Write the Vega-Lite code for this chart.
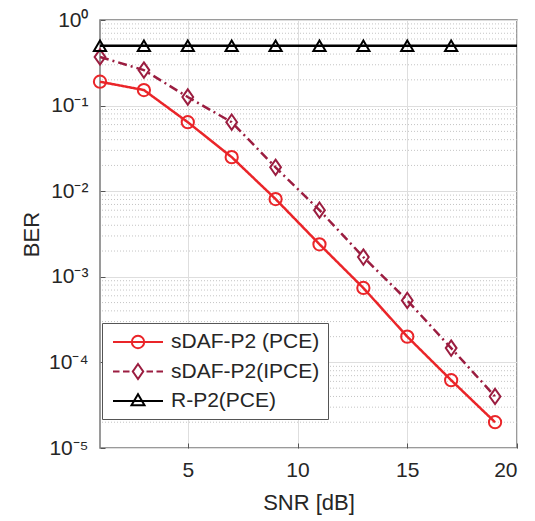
{
  "$schema": "https://vega.github.io/schema/vega-lite/v6.json",
  "width": 417,
  "height": 428,
  "autosize": "none",
  "padding": {"left": 100, "top": 20, "right": 18, "bottom": 73},
  "background": "white",
  "config": {
    "font": "Liberation Sans",
    "view": {"stroke": "#7a7a7a", "strokeWidth": 1.5},
    "axis": {"labelFont": "Liberation Sans", "titleFont": "Liberation Sans", "labelColor": "#262626", "titleColor": "#262626", "titleFontWeight": "normal"},
    "legend": {
      "title": null, "orient": "none", "legendX": 2, "legendY": 303,
      "labelFontSize": 21, "labelColor": "#262626", "labelFont": "Liberation Sans",
      "symbolSize": 400, "symbolStrokeWidth": 2, "symbolOffset": 17, "labelOffset": 22,
      "symbolOpacity": 1, "symbolFillColor": "transparent",
      "rowPadding": 6.5, "padding": 8,
      "strokeColor": "#555555", "fillColor": "white"
    }
  },
  "resolve": {"scale": {"color": "independent", "shape": "independent"}},
  "datasets": {
    "minor": [
      {"v": 2e-5}, {"v": 3e-5}, {"v": 4e-5}, {"v": 5e-5}, {"v": 6e-5}, {"v": 7e-5}, {"v": 8e-5}, {"v": 9e-5},
      {"v": 2e-4}, {"v": 3e-4}, {"v": 4e-4}, {"v": 5e-4}, {"v": 6e-4}, {"v": 7e-4}, {"v": 8e-4}, {"v": 9e-4},
      {"v": 2e-3}, {"v": 3e-3}, {"v": 4e-3}, {"v": 5e-3}, {"v": 6e-3}, {"v": 7e-3}, {"v": 8e-3}, {"v": 9e-3},
      {"v": 2e-2}, {"v": 3e-2}, {"v": 4e-2}, {"v": 5e-2}, {"v": 6e-2}, {"v": 7e-2}, {"v": 8e-2}, {"v": 9e-2},
      {"v": 2e-1}, {"v": 3e-1}, {"v": 4e-1}, {"v": 5e-1}, {"v": 6e-1}, {"v": 7e-1}, {"v": 8e-1}, {"v": 9e-1}
    ],
    "ber": [
      {"series": "sDAF-P2 (PCE)", "x": 1, "y": 0.19},
      {"series": "sDAF-P2 (PCE)", "x": 3, "y": 0.152},
      {"series": "sDAF-P2 (PCE)", "x": 5, "y": 0.064},
      {"series": "sDAF-P2 (PCE)", "x": 7, "y": 0.025},
      {"series": "sDAF-P2 (PCE)", "x": 9, "y": 0.0081},
      {"series": "sDAF-P2 (PCE)", "x": 11, "y": 0.0024},
      {"series": "sDAF-P2 (PCE)", "x": 13, "y": 0.00074},
      {"series": "sDAF-P2 (PCE)", "x": 15, "y": 0.0002},
      {"series": "sDAF-P2 (PCE)", "x": 17, "y": 0.000062},
      {"series": "sDAF-P2 (PCE)", "x": 19, "y": 0.00002},
      {"series": "sDAF-P2(IPCE)", "x": 1, "y": 0.37},
      {"series": "sDAF-P2(IPCE)", "x": 3, "y": 0.26},
      {"series": "sDAF-P2(IPCE)", "x": 5, "y": 0.126},
      {"series": "sDAF-P2(IPCE)", "x": 7, "y": 0.064},
      {"series": "sDAF-P2(IPCE)", "x": 9, "y": 0.019},
      {"series": "sDAF-P2(IPCE)", "x": 11, "y": 0.006},
      {"series": "sDAF-P2(IPCE)", "x": 13, "y": 0.0017},
      {"series": "sDAF-P2(IPCE)", "x": 15, "y": 0.00053},
      {"series": "sDAF-P2(IPCE)", "x": 17, "y": 0.000147},
      {"series": "sDAF-P2(IPCE)", "x": 19, "y": 0.00004},
      {"series": "R-P2(PCE)", "x": 1, "y": 0.5},
      {"series": "R-P2(PCE)", "x": 3, "y": 0.5},
      {"series": "R-P2(PCE)", "x": 5, "y": 0.5},
      {"series": "R-P2(PCE)", "x": 7, "y": 0.5},
      {"series": "R-P2(PCE)", "x": 9, "y": 0.5},
      {"series": "R-P2(PCE)", "x": 11, "y": 0.5},
      {"series": "R-P2(PCE)", "x": 13, "y": 0.5},
      {"series": "R-P2(PCE)", "x": 15, "y": 0.5},
      {"series": "R-P2(PCE)", "x": 17, "y": 0.5},
      {"series": "R-P2(PCE)", "x": 20, "y": 0.5}
    ]
  },
  "layer": [
    {
      "data": {"name": "minor"},
      "mark": {"type": "rule", "stroke": "#b5b5b5", "strokeWidth": 0.8, "strokeDash": [1, 2]},
      "encoding": {
        "y": {"field": "v", "type": "quantitative", "scale": {"type": "log", "domain": [0.00001, 1], "nice": false},
          "axis": {
            "values": [0.00001, 0.0001, 0.001, 0.01, 0.1, 1],
            "grid": true, "gridColor": "#dedede", "gridWidth": 1,
            "domain": false, "ticks": true, "tickSize": -5, "tickColor": "#555555", "tickWidth": 1,
            "labelFontSize": 21, "labelPadding": 17,
            "labelExpr": "'10' + (round(log(datum.value)/LN10) == 0 ? '⁰' : round(log(datum.value)/LN10) == -1 ? '⁻¹' : round(log(datum.value)/LN10) == -2 ? '⁻²' : round(log(datum.value)/LN10) == -3 ? '⁻³' : round(log(datum.value)/LN10) == -4 ? '⁻⁴' : '⁻⁵')",
            "title": "BER", "titleFontSize": 22, "titlePadding": 5
          }
        }
      }
    },
    {
      "data": {"name": "ber"},
      "mark": {"type": "line", "strokeWidth": 2.5},
      "encoding": {
        "x": {"field": "x", "type": "quantitative", "scale": {"domain": [1, 20], "nice": false},
          "axis": {
            "values": [5, 10, 15, 20], "grid": true, "gridColor": "#dedede",
            "domain": false, "ticks": true, "tickSize": -5, "tickColor": "#555555", "tickWidth": 1,
            "labelFontSize": 21, "labelPadding": 16,
            "title": "SNR [dB]", "titleFontSize": 22, "titlePadding": 12
          }
        },
        "y": {"field": "y", "type": "quantitative"},
        "color": {"field": "series", "type": "nominal",
          "scale": {"domain": ["sDAF-P2 (PCE)", "sDAF-P2(IPCE)", "R-P2(PCE)"], "range": ["#ea2529", "#9b1d40", "#000000"]},
          "legend": null},
        "strokeDash": {"field": "series", "type": "nominal",
          "scale": {"domain": ["sDAF-P2 (PCE)", "sDAF-P2(IPCE)", "R-P2(PCE)"], "range": [[1, 0], [9, 4, 2, 4], [1, 0]]},
          "legend": null}
      }
    },
    {
      "data": {"name": "ber"},
      "transform": [{"filter": "datum.series !== 'R-P2(PCE)' || datum.x <= 17"}],
      "mark": {"type": "point", "filled": false, "strokeWidth": 2, "size": 150, "opacity": 1},
      "encoding": {
        "x": {"field": "x", "type": "quantitative"},
        "y": {"field": "y", "type": "quantitative"},
        "color": {"field": "series", "type": "nominal",
          "scale": {"domain": ["sDAF-P2 (PCE)", "sDAF-P2(IPCE)", "R-P2(PCE)"], "range": ["#ea2529", "#9b1d40", "#000000"]},
          "legend": null},
        "shape": {"field": "series", "type": "nominal",
          "scale": {"domain": ["sDAF-P2 (PCE)", "sDAF-P2(IPCE)", "R-P2(PCE)"], "range": ["circle", "M0,-1.25L0.88,0L0,1.25L-0.88,0Z", "triangle-up"]},
          "legend": null}
      }
    },
    {
      "data": {"name": "ber"},
      "transform": [{"filter": "datum.x == 1"}],
      "mark": {"type": "point", "filled": false, "strokeWidth": 2, "opacity": 0},
      "encoding": {
        "x": {"field": "x", "type": "quantitative"},
        "y": {"field": "y", "type": "quantitative"},
        "color": {"field": "series", "type": "nominal",
          "scale": {"domain": ["sDAF-P2 (PCE)", "sDAF-P2(IPCE)", "R-P2(PCE)"], "range": ["#ea2529", "#9b1d40", "#000000"]}},
        "shape": {"field": "series", "type": "nominal",
          "scale": {"domain": ["sDAF-P2 (PCE)", "sDAF-P2(IPCE)", "R-P2(PCE)"], "range": [
            "M-2.5,0L2.5,0M-0.62,0A0.62,0.62 0 1,1 0.62,0A0.62,0.62 0 1,1 -0.62,0",
            "M-2.5,0L-1.85,0M-1.5,0L-0.85,0M-0.6,0L-0.5,0M0.5,0L0.6,0M0.85,0L1.5,0M1.85,0L2.5,0M0,-0.75L0.52,0L0,0.75L-0.52,0Z",
            "M-2.5,0L2.5,0M-0.65,0.42L0.65,0.42L0,-0.68Z"
          ]}}
      }
    }
  ]
}
